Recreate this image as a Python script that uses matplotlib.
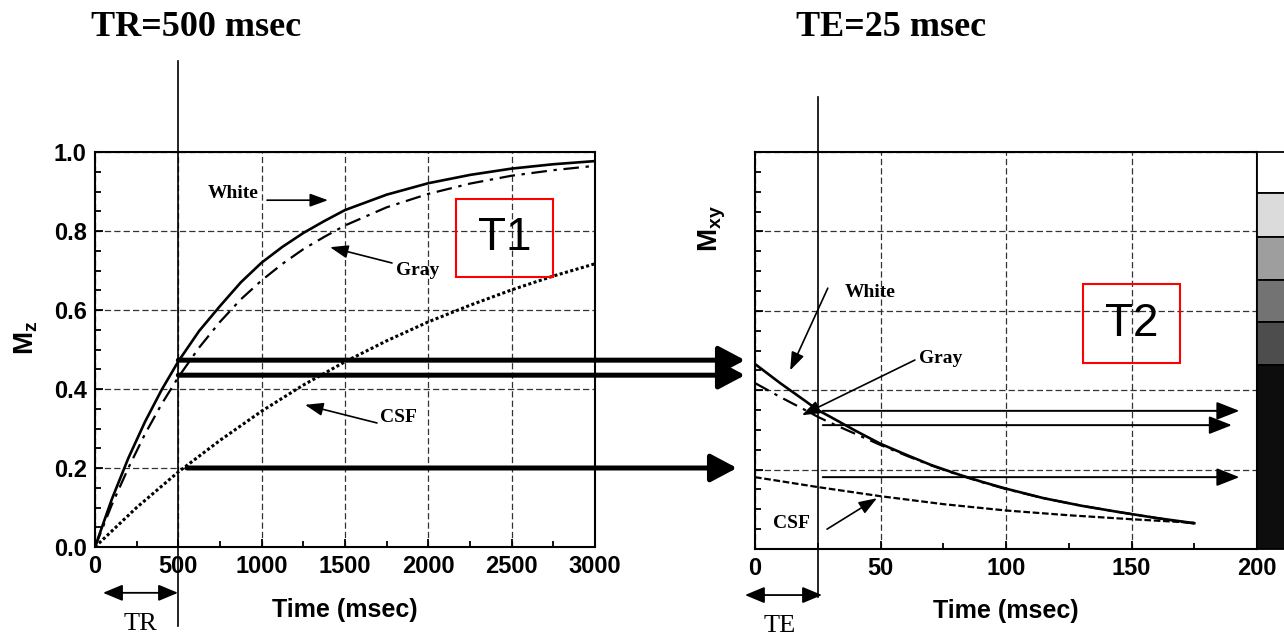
import matplotlib
matplotlib.use("Agg")
import matplotlib.pyplot as plt
from matplotlib.patches import Rectangle

# T1 recovery (left panel)
t1_time = [0, 100, 200, 300, 400, 500, 625, 750, 875, 1000, 1125, 1250, 1375, 1500,
           1750, 2000, 2250, 2500, 2750, 3000]
mz_white = [0, 0.12, 0.225, 0.317, 0.398, 0.47, 0.547, 0.61, 0.67, 0.72, 0.76, 0.795, 0.825, 0.853,
            0.892, 0.921, 0.942, 0.958, 0.969, 0.977]
mz_gray = [0, 0.106, 0.20, 0.286, 0.362, 0.43, 0.505, 0.57, 0.627, 0.675, 0.717, 0.754, 0.785, 0.814,
           0.86, 0.894, 0.92, 0.94, 0.954, 0.965]
csf_t1_time = [0, 250, 500, 750, 1000, 1250, 1500, 1750, 2000, 2250, 2500, 2750, 3000]
mz_csf = [0, 0.10, 0.19, 0.27, 0.344, 0.41, 0.469, 0.522, 0.57, 0.612, 0.651, 0.686, 0.717]

# T2 decay (right panel)
t2_time = [0, 10, 20, 25, 30, 40, 50, 60, 70, 80, 90, 100, 115, 130, 145, 160, 175]
mxy_white = [0.466, 0.418, 0.373, 0.350, 0.333, 0.298, 0.265, 0.238, 0.212, 0.190, 0.170, 0.152, 0.128, 0.109, 0.093, 0.078, 0.065]
mxy_gray = [0.418, 0.383, 0.350, 0.333, 0.318, 0.290, 0.262, 0.236, 0.211, 0.189, 0.169, 0.151, 0.128, 0.109, 0.093, 0.078, 0.064]
csf_t2_time = [0, 25, 50, 75, 100, 125, 150, 175]
mxy_csf = [0.181, 0.156, 0.133, 0.113, 0.097, 0.085, 0.075, 0.066]

TR = 500
TE = 25
mz_at_tr = [0.473, 0.435, 0.20]
mxy_at_te = [0.348, 0.312, 0.181]

# grey scale strip at the right
gray_edges = [1.0, 0.897, 0.786, 0.678, 0.572, 0.463, 0.0]
gray_levels = [1.0, 0.86, 0.62, 0.45, 0.3, 0.05]

plt.rcParams["font.family"] = ["Liberation Sans Narrow", "Liberation Sans", "DejaVu Sans"]
plt.rcParams["font.weight"] = "bold"
plt.rcParams["mathtext.fontset"] = "custom"
plt.rcParams["mathtext.bf"] = "Liberation Sans:bold"
plt.rcParams["mathtext.rm"] = "Liberation Sans:bold"
plt.rcParams["mathtext.it"] = "Liberation Sans:bold"

serif = "Liberation Serif"
grid_style = dict(color="#333333", lw=0.9, linestyle=(0, (5, 2.5)))

fig = plt.figure(figsize=(12.84, 6.35), dpi=100)
ax1 = fig.add_axes([95 / 1284, 88 / 635, 500 / 1284, 395 / 635])
ax2 = fig.add_axes([755 / 1284, 86 / 635, 502 / 1284, 397 / 635])


def style_axes(ax):
    for s in ax.spines.values():
        s.set_linewidth(1.5)
    ax.tick_params(which="both", direction="in", width=1.3, labelsize=17, pad=6)
    ax.tick_params(which="major", length=6)
    ax.tick_params(which="minor", length=4.5)
    ax.grid(True, which="major", **grid_style)


# ---- left: T1 ----
ax1.plot(t1_time, mz_white, color="k", lw=1.9)
ax1.plot(t1_time, mz_gray, color="k", lw=1.6, linestyle=(0, (7, 3, 1.5, 3)))
ax1.plot(csf_t1_time, mz_csf, color="k", lw=2.2, linestyle=(0, (1, 0.8)))
ax1.set_xlim(0, 3000)
ax1.set_ylim(0, 1.0)
ax1.set_xticks(range(0, 3001, 500))
ax1.set_xticks(range(250, 3000, 500), minor=True)
ax1.set_yticks([0, 0.2, 0.4, 0.6, 0.8, 1.0])
ax1.set_yticklabels(["0.0", "0.2", "0.4", "0.6", "0.8", "1.0"])
ax1.set_yticks([i * 0.05 for i in range(1, 20)], minor=True)
style_axes(ax1)
ax1.set_xlabel("Time (msec)", fontsize=18, fontweight="bold")
ax1.xaxis.set_label_coords(0.5, -0.13)
ax1.set_ylabel(r"$\mathbf{M_z}$", fontsize=20)
ax1.yaxis.set_label_coords(-0.11, 0.53)

ax1.plot([TR, TR], [-0.2, 1.23], color="k", lw=1.2, clip_on=False)
for i, y in enumerate(mz_at_tr):
    x0 = TR if i < 2 else 552
    x1 = 3900 if i < 2 else 3852
    ax1.annotate("", xy=(x1, y), xytext=(x0, y), annotation_clip=False,
                 arrowprops=dict(arrowstyle="-|>,head_length=1.6,head_width=0.85",
                                 mutation_scale=10, lw=3.6, color="k",
                                 shrinkA=0, shrinkB=0))

label_arrow = dict(arrowstyle="-|>,head_length=1.1,head_width=0.4", mutation_scale=10,
                   lw=1.2, color="k", shrinkA=0, shrinkB=0)
ax1.text(828, 0.896, "White", family=serif, fontsize=14, fontweight="bold", ha="center", va="center")
ax1.annotate("", xy=(1398, 0.878), xytext=(1032, 0.878), arrowprops=label_arrow)
ax1.text(1938, 0.701, "Gray", family=serif, fontsize=14, fontweight="bold", ha="center", va="center")
ax1.annotate("", xy=(1410, 0.759), xytext=(1782, 0.719), arrowprops=label_arrow)
ax1.text(1818, 0.327, "CSF", family=serif, fontsize=14, fontweight="bold", ha="center", va="center")
ax1.annotate("", xy=(1260, 0.36), xytext=(1692, 0.314), arrowprops=label_arrow)

ax1.add_patch(Rectangle((2166, 0.684), 582, 0.197, fill=False, ec="red", lw=1.5, zorder=5))
ax1.text(2457, 0.7825, "T1", family="Liberation Sans", fontweight="normal", fontsize=33,
         ha="center", va="center", zorder=6)

ax1.annotate("", xy=(498, -0.116), xytext=(48, -0.116), annotation_clip=False,
             arrowprops=dict(arrowstyle="<|-|>,head_length=1.2,head_width=0.5", mutation_scale=10,
                             lw=1.3, color="k", shrinkA=0, shrinkB=0))
ax1.text(270, -0.195, "TR", family=serif, fontweight="normal", fontsize=19, ha="center", va="center")

# ---- right: T2 ----
ax2.plot(t2_time, mxy_white, color="k", lw=1.9)
ax2.plot(t2_time, mxy_gray, color="k", lw=1.6, linestyle=(0, (7, 3, 1.5, 3)))
ax2.plot(csf_t2_time, mxy_csf, color="k", lw=1.6, linestyle=(0, (3, 1.2)))
ax2.set_xlim(0, 200)
ax2.set_ylim(0, 1.0)
ax2.set_xticks([0, 50, 100, 150, 200])
ax2.set_xticks([25, 75, 125, 175], minor=True)
ax2.set_yticks([0, 0.2, 0.4, 0.6, 0.8, 1.0])
ax2.set_yticks([i * 0.05 for i in range(1, 20)], minor=True)
style_axes(ax2)
ax2.tick_params(axis="y", labelleft=False)
ax2.set_xlabel("Time (msec)", fontsize=18, fontweight="bold")
ax2.xaxis.set_label_coords(0.5, -0.125)
ax2.set_ylabel(r"$\mathbf{M_{xy}}$", fontsize=20)
ax2.yaxis.set_label_coords(-0.054, 0.806)

ax2.plot([TE, TE], [-0.121, 1.139], color="k", lw=1.2, clip_on=False)
for i, y in enumerate(mxy_at_te):
    x1 = 190 if i == 1 else 193
    ax2.annotate("", xy=(x1, y), xytext=(27, y), annotation_clip=False,
                 arrowprops=dict(arrowstyle="-|>,head_length=1.4,head_width=0.55",
                                 mutation_scale=10, lw=1.4, color="k",
                                 shrinkA=0, shrinkB=0))

ax2.text(45.8, 0.645, "White", family=serif, fontsize=14, fontweight="bold", ha="center", va="center")
ax2.annotate("", xy=(14, 0.45), xytext=(29, 0.657), arrowprops=label_arrow)
ax2.text(74, 0.48, "Gray", family=serif, fontsize=14, fontweight="bold", ha="center", va="center")
ax2.annotate("", xy=(18.7, 0.337), xytext=(63.7, 0.476), arrowprops=label_arrow)
ax2.text(14.7, 0.065, "CSF", family=serif, fontsize=14, fontweight="bold", ha="center", va="center")
ax2.annotate("", xy=(48.6, 0.128), xytext=(28.7, 0.05), arrowprops=label_arrow)

ax2.add_patch(Rectangle((130.7, 0.469), 38.6, 0.198, fill=False, ec="red", lw=1.5, zorder=5))
ax2.text(150, 0.568, "T2", family="Liberation Sans", fontweight="normal", fontsize=33,
         ha="center", va="center", zorder=6)

ax2.annotate("", xy=(26.7, -0.116), xytext=(-4, -0.116), annotation_clip=False,
             arrowprops=dict(arrowstyle="<|-|>,head_length=1.2,head_width=0.5", mutation_scale=10,
                             lw=1.3, color="k", shrinkA=0, shrinkB=0))
ax2.text(10, -0.193, "TE", family=serif, fontweight="normal", fontsize=19, ha="center", va="center")

for i, level in enumerate(gray_levels):
    ax2.add_patch(Rectangle((200, gray_edges[i + 1]), 20, gray_edges[i] - gray_edges[i + 1],
                            fc=str(level), ec="k", lw=1.3, clip_on=False, zorder=4))

fig.text(196 / 1284, 1 - 28 / 635, "TR=500 msec", family=serif, fontweight="bold",
         fontsize=26, ha="center", va="center")
fig.text(891 / 1284, 1 - 28 / 635, "TE=25 msec", family=serif, fontweight="bold",
         fontsize=26, ha="center", va="center")

fig.savefig("out.png", dpi=100)
